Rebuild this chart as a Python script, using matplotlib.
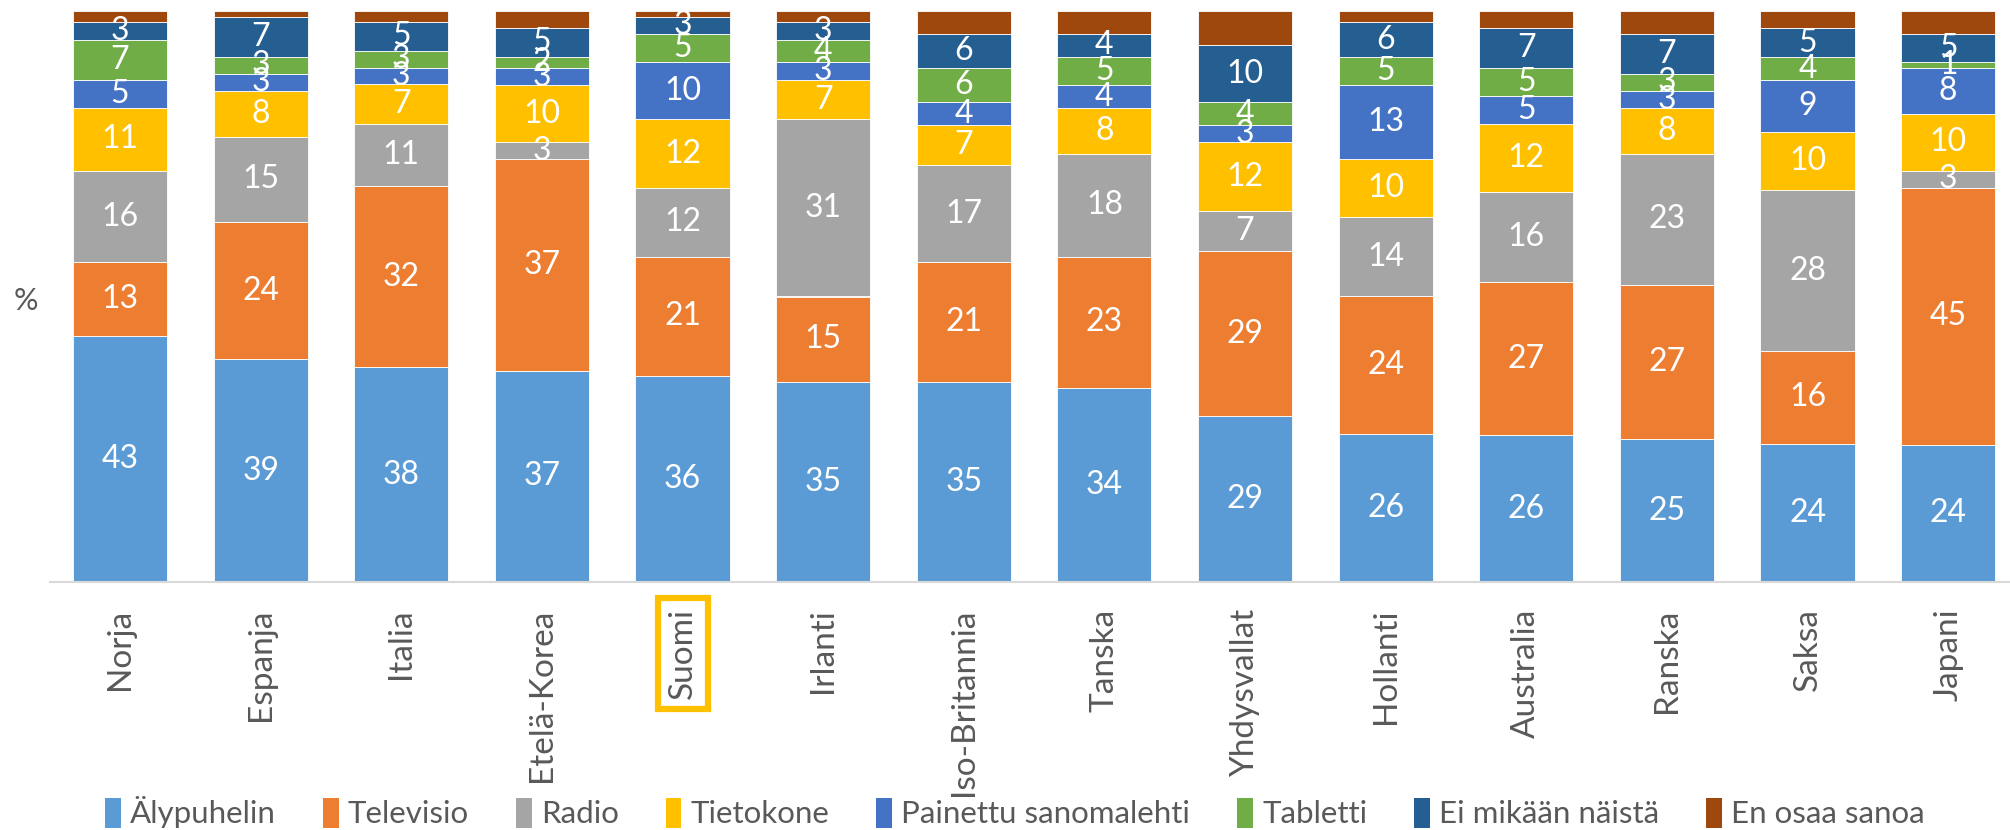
import numpy as np
import matplotlib
matplotlib.use("Agg")
import matplotlib.pyplot as plt
from matplotlib.patches import Patch

plt.rcParams["font.family"] = ["Lato", "DejaVu Sans"]

# ---- data (percent shares) ----
countries = ["Norja", "Espanja", "Italia", "Etelä-Korea", "Suomi", "Irlanti",
             "Iso-Britannia", "Tanska", "Yhdysvallat", "Hollanti", "Australia",
             "Ranska", "Saksa", "Japani"]
categories = ["Älypuhelin", "Televisio", "Radio", "Tietokone",
              "Painettu sanomalehti", "Tabletti", "Ei mikään näistä", "En osaa sanoa"]

alypuhelin = [43, 39, 38, 37, 36, 35, 35, 34, 29, 26, 26, 25, 24, 24]
televisio = [13, 24, 32, 37, 21, 15, 21, 23, 29, 24, 27, 27, 16, 45]
radio = [16, 15, 11, 3, 12, 31, 17, 18, 7, 14, 16, 23, 28, 3]
tietokone = [11, 8, 7, 10, 12, 7, 7, 8, 12, 10, 12, 8, 10, 10]
sanomalehti = [5, 3, 3, 3, 10, 3, 4, 4, 3, 13, 5, 3, 9, 8]
tabletti = [7, 3, 3, 2, 5, 4, 6, 5, 4, 5, 5, 3, 4, 1]
ei_mikaan = [3, 7, 5, 5, 3, 3, 6, 4, 10, 6, 7, 7, 5, 5]
en_osaa = [2, 1, 2, 3, 1, 2, 4, 4, 6, 2, 3, 4, 3, 4]

colors = ["#5B9BD5", "#ED7D31", "#A5A5A5", "#FFC000",
          "#4472C4", "#70AD47", "#255E91", "#9E480E"]

series = [alypuhelin, televisio, radio, tietokone, sanomalehti, tabletti, ei_mikaan, en_osaa]
vals = np.array(series, dtype=float)
shares = vals / vals.sum(axis=0) * 100  # 100 % stacked

W, H = 2010, 830
fig = plt.figure(figsize=(W / 100, H / 100), dpi=100)
ax = fig.add_axes([50 / W, (H - 582) / H, (W - 50) / W, (582 - 11) / H])

x = np.arange(len(countries))
bottom = np.zeros(len(countries))
for i, (name, col) in enumerate(zip(categories, colors)):
    ax.bar(x, shares[i], bottom=bottom, width=0.67, color=col,
           edgecolor="white", linewidth=0.6, label=name)
    if i < 7:
        for xi, b, h, v in zip(x, bottom, shares[i], series[i]):
            ax.text(xi, b + h / 2, f"{v}", ha="center", va="center",
                    color="white", fontsize=23)
    bottom += shares[i]

ax.set_xlim(-0.498, 13.44)
ax.set_ylim(0, 100)
ax.set_yticks([])
for s in ["top", "right", "left"]:
    ax.spines[s].set_visible(False)
ax.spines["bottom"].set_color("#D9D9D9")
ax.spines["bottom"].set_linewidth(1.5)

ax.set_xticks(x)
ax.set_xticklabels(countries, rotation=90, ha="center", va="top",
                   fontsize=24, color="#595959")
ax.tick_params(axis="x", length=0, pad=19)
for lab in ax.get_xticklabels():
    if lab.get_text() == "Suomi":
        lab.set_bbox(dict(facecolor="none", edgecolor="#FFC000",
                          linewidth=4.5, boxstyle="square,pad=0.3"))

fig.text(26 / W, 1 - 301 / H, "%", fontsize=22, color="#595959",
         ha="center", va="center")

handles = [Patch(facecolor=c, edgecolor="none") for c in colors]
fig.legend(handles, categories, loc="lower center", ncol=8,
           bbox_to_anchor=(0.505, -0.032), frameon=False,
           prop={"size": 22.5}, labelcolor="#595959",
           handlelength=0.5, handleheight=1.1, handletextpad=0.3,
           columnspacing=1.5)

fig.savefig("out.png", dpi=100)
